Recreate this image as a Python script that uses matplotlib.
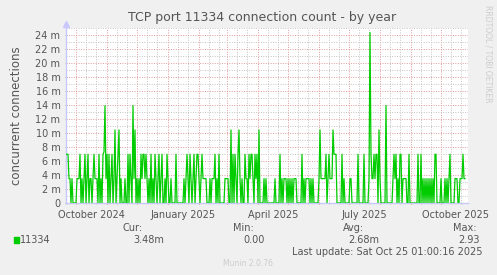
import datetime as dt
import matplotlib
matplotlib.use("Agg")
import matplotlib.pyplot as plt
import matplotlib.dates as mdates
from matplotlib.ticker import MultipleLocator, FuncFormatter

# daily average of concurrent connections, in milli units (one value per day)
start_day = dt.date(2024, 9, 21)
conn_m = [
    6.96, 6.96, 6.96, 3.48, 3.48, 0, 3.48, 0, 0, 0,
    0, 3.48, 3.48, 3.48, 6.96, 0, 3.48, 0, 3.48, 6.96,
    0, 3.48, 6.96, 0, 3.48, 3.48, 0, 3.48, 6.96, 3.48,
    3.48, 3.48, 0, 6.96, 0, 3.48, 0, 6.96, 7.3, 13.92,
    3.48, 6.96, 0, 6.96, 0, 3.48, 6.96, 0, 3.48, 10.44,
    0, 3.48, 6.96, 10.44, 0, 3.48, 0, 0, 0, 3.48,
    0, 0, 6.96, 0, 6.96, 3.48, 0, 13.92, 3.48, 10.44,
    0, 3.48, 0, 3.48, 0, 6.96, 3.48, 6.96, 6.96, 3.48,
    6.96, 3.48, 0, 3.48, 0, 6.96, 0, 3.48, 0, 6.96,
    3.48, 0, 3.48, 6.96, 0, 3.48, 6.96, 0, 0, 3.48,
    0, 6.96, 3.48, 0, 0, 3.48, 0, 0, 0, 0,
    6.96, 0, 0, 0, 0, 0, 0, 0, 3.48, 0,
    3.48, 6.96, 3.48, 0, 6.96, 3.48, 0, 3.48, 6.96, 0,
    3.48, 6.96, 6.96, 3.48, 0, 3.48, 6.96, 3.48, 3.48, 3.48,
    3.48, 0, 0, 0, 3.48, 0, 3.48, 3.48, 3.48, 6.96,
    0, 3.48, 0, 6.96, 0, 0, 0, 0, 0, 3.48,
    3.48, 3.48, 3.48, 0, 0, 10.44, 0, 6.96, 0, 6.96,
    3.48, 0, 6.96, 10.44, 3.48, 0, 3.48, 0, 0, 6.96,
    3.48, 3.48, 0, 6.96, 3.48, 6.96, 6.96, 3.48, 0, 6.96,
    3.48, 6.96, 0, 10.44, 0, 0, 0, 0, 3.48, 0,
    3.48, 0, 0, 0, 0, 0, 0, 0, 0, 3.48,
    0, 0, 0, 0, 6.96, 0, 3.48, 0, 3.48, 3.48,
    3.48, 0, 3.48, 0, 3.48, 0, 3.48, 0, 3.48, 3.48,
    3.48, 0, 0, 0, 0, 0, 6.96, 0, 3.48, 0,
    3.48, 3.48, 3.48, 3.48, 0, 3.48, 0, 3.48, 0, 0,
    0, 0, 0, 3.48, 10.44, 3.48, 3.48, 3.48, 3.48, 3.48,
    6.96, 0, 3.48, 6.96, 3.48, 3.48, 3.48, 10.44, 6.96, 6.96,
    6.96, 0, 0, 0, 0, 0, 6.96, 0, 3.48, 0,
    0, 0, 0, 0, 3.48, 3.48, 0, 0, 0, 0,
    0, 0, 6.96, 0, 0, 0, 0, 0, 6.96, 0,
    0, 0, 0, 3.48, 24.36, 6.96, 3.48, 3.48, 6.96, 3.48,
    6.96, 6.96, 0, 10.44, 3.48, 0, 0, 0, 0, 0,
    13.92, 0, 0, 0, 0, 0, 0, 3.48, 6.96, 3.48,
    6.96, 0, 3.48, 0, 6.96, 6.96, 0, 3.48, 3.48, 3.48,
    3.48, 0, 0, 6.96, 0, 0, 0, 0, 0, 0,
    0, 0, 6.96, 0, 0, 6.96, 0, 3.48, 0, 3.48,
    0, 3.48, 0, 3.48, 0, 3.48, 0, 3.48, 0, 6.96,
    6.96, 0, 0, 0, 0, 3.48, 0, 0, 0, 3.48,
    0, 3.48, 0, 3.48, 6.96, 0, 0, 0, 0, 3.48,
    3.48, 3.48, 0, 0, 3.48, 3.48, 3.48, 6.96, 3.48, 3.48,
]
days = [start_day + dt.timedelta(days=i) for i in range(len(conn_m))]

x_labels = ["October 2024", "January 2025", "April 2025", "July 2025", "October 2025"]
x_label_days = [dt.date(2024, 10, 16), dt.date(2025, 1, 16), dt.date(2025, 4, 16),
                dt.date(2025, 7, 16), dt.date(2025, 10, 16)]

series_name = "11334"
cur_txt, min_txt, avg_txt, max_txt = "3.48m", "0.00", "2.68m", "2.93"

bg = "#f0f0f0"
txt = "#555555"
axis_col = "#c8c8ff"

fig = plt.figure(figsize=(4.97, 2.75), dpi=100, facecolor=bg)
ax = fig.add_axes([66 / 497, 72 / 275, 402 / 497, 175 / 275])
ax.set_facecolor("white")

ax.plot(days, conn_m, color="#00cc00", lw=0.9, zorder=3)

ax.set_xlim(start_day, start_day + dt.timedelta(days=402))
ax.set_ylim(0, 25)

# grid: red major, grey minor
ax.xaxis.set_major_locator(mdates.MonthLocator())
ax.xaxis.set_minor_locator(mdates.DayLocator(bymonthday=[11, 21]))
ax.xaxis.set_major_formatter(FuncFormatter(lambda v, p: ""))
ax.yaxis.set_major_locator(MultipleLocator(2))
ax.yaxis.set_minor_locator(MultipleLocator(1))
ax.yaxis.set_major_formatter(FuncFormatter(lambda v, p: "0" if v == 0 else "%d m" % v))
ax.grid(True, which="major", color="#e39a9a", ls=(0, (1, 1.5)), lw=0.7)
ax.grid(True, which="minor", color="#c4c4c4", ls=(0, (1, 1.5)), lw=0.7)
ax.set_axisbelow(True)
ax.tick_params(which="major", axis="x", length=2, direction="inout", color="#e07070")
ax.tick_params(which="minor", axis="x", length=2, direction="inout", color="#bbbbbb")
ax.tick_params(which="both", axis="y", length=2, direction="inout", color="#bbbbbb",
               labelsize=7, labelcolor=txt, pad=3)
ax.tick_params(which="minor", axis="y", length=0)

for lab, d in zip(x_labels, x_label_days):
    ax.text(d, -1.0, lab, ha="center", va="top", fontsize=7, color=txt)

for s in ["top", "right"]:
    ax.spines[s].set_visible(False)
for s in ["left", "bottom"]:
    ax.spines[s].set_color(axis_col)
    ax.spines[s].set_linewidth(1)
ax.spines["left"].set_bounds(0, 25.5)
ax.plot([0], [25.6], marker="^", ms=4.5, color=axis_col, transform=ax.get_yaxis_transform(),
        clip_on=False)
ax.plot([1.01], [0], marker=">", ms=4.5, color=axis_col, transform=ax.get_xaxis_transform(),
        clip_on=False)

ax.set_ylabel("concurrent connections", fontsize=8.5, color=txt, labelpad=9)

fig.text(262 / 497, 1 - 18 / 275, "TCP port 11334 connection count - by year",
         ha="center", va="center", fontsize=9, color=txt)
fig.text(488 / 497, 1 - 5 / 275, "RRDTOOL / TOBI OETIKER", rotation=-90, ha="center",
         va="top", fontsize=5.5, color="#cccccc")

# legend / stats
row1 = 1 - 228 / 275
row2 = 1 - 240 / 275
for x, s in [(133, "Cur:"), (243, "Min:"), (353, "Avg:")]:
    fig.text(x / 497, row1, s, ha="center", va="center", fontsize=7, color=txt)
fig.text(477 / 497, row1, "Max:", ha="right", va="center", fontsize=7, color=txt)
fig.patches.append(plt.Rectangle((14 / 497, row2 - 3 / 275), 5 / 497, 6 / 275,
                                 transform=fig.transFigure, color="#00cc00", figure=fig))
fig.text(20 / 497, row2, series_name, ha="left", va="center", fontsize=7, color=txt)
for x, s in [(164, cur_txt), (265, min_txt), (379, avg_txt), (480, max_txt)]:
    fig.text(x / 497, row2, s, ha="right", va="center", fontsize=7, color=txt)
fig.text(483 / 497, 1 - 252 / 275, "Last update: Sat Oct 25 01:00:16 2025",
         ha="right", va="center", fontsize=7, color=txt)
fig.text(248 / 497, 1 - 264 / 275, "Munin 2.0.76", ha="center", va="center",
         fontsize=5.5, color="#cccccc")

fig.savefig("out.png", dpi=100, facecolor=bg)
